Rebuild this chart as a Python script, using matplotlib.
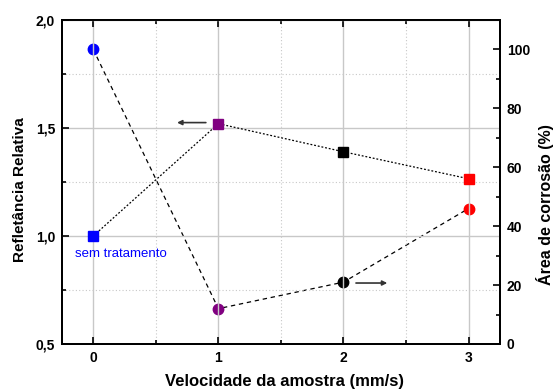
import matplotlib
matplotlib.use("Agg")
import matplotlib.pyplot as plt
from matplotlib.ticker import MultipleLocator, FuncFormatter

plt.rcParams['font.family'] = ['Liberation Sans', 'DejaVu Sans']

# velocidade (mm/s)
velocidade = [0, 1, 2, 3]
# refletância relativa (eixo esquerdo, quadrados)
refletancia = [1.00, 1.52, 1.39, 1.265]
# área de corrosão (%) (eixo direito, círculos)
area_corrosao = [100, 12, 21, 46]
cores = ['#0000ff', '#800080', '#000000', '#ff0000']

fig = plt.figure(figsize=(5.56, 3.89), dpi=100)
ax = fig.add_axes([0.1115, 0.1157, 0.7875, 0.8329])
ax2 = ax.twinx()

# linhas tracejadas ligando os pontos
ax.plot(velocidade, refletancia, color='k', lw=0.9, ls=(0, (1.5, 1.5)), zorder=2)
ax2.plot(velocidade, area_corrosao, color='k', lw=0.9, ls=(0, (3.5, 3)), zorder=2)
for x, y, c in zip(velocidade, refletancia, cores):
    ax.plot(x, y, 's', color=c, ms=7, mec=c, zorder=3)
for x, y, c in zip(velocidade, area_corrosao, cores):
    ax2.plot(x, y, 'o', color=c, ms=7.5, mec=c, zorder=3)

ax.set_xlim(-0.25, 3.25)
ax.set_ylim(0.5, 2.0)
ax2.set_ylim(0, 110)

ax.xaxis.set_major_locator(MultipleLocator(1))
ax.xaxis.set_minor_locator(MultipleLocator(0.5))
ax.yaxis.set_major_locator(MultipleLocator(0.5))
ax.yaxis.set_minor_locator(MultipleLocator(0.25))
ax2.yaxis.set_major_locator(MultipleLocator(20))
ax2.yaxis.set_minor_locator(MultipleLocator(10))
ax.yaxis.set_major_formatter(FuncFormatter(lambda v, p: f"{v:.1f}".replace('.', ',')))

# grade: linhas cheias nos ticks principais, pontilhadas nos secundários
ax.grid(which='major', color='#c8c8c8', lw=1.0, ls='-')
ax.grid(which='minor', color='#c8c8c8', lw=0.8, ls=(0, (1, 2)))
ax.set_axisbelow(True)

ax.tick_params(which='both', direction='in', top=True, right=False, width=1.2)
ax.tick_params(which='major', length=5, labelsize=10, pad=5)
ax.tick_params(which='minor', length=3)
ax2.tick_params(which='both', direction='in', width=1.2)
ax2.tick_params(which='major', length=5, labelsize=10, pad=5)
ax2.tick_params(which='minor', length=3)
for a in (ax, ax2):
    for s in a.spines.values():
        s.set_linewidth(1.4)
    for lab in a.get_xticklabels() + a.get_yticklabels():
        lab.set_fontweight('bold')

ax.set_xlabel('Velocidade da amostra (mm/s)', fontsize=12, fontweight='bold', va='center')
ax.set_ylabel('Refletância Relativa', fontsize=11, fontweight='bold', va='center')
ax2.set_ylabel('Área de corrosão (%)', fontsize=11.5, fontweight='bold', va='center')
ax.xaxis.set_label_coords(0.509, -0.117)
ax.yaxis.set_label_coords(-0.096, 0.475)
ax2.yaxis.set_label_coords(1.102, 0.429)

ax.text(0.22, 0.915, 'sem tratamento', color='#0000ff', fontsize=9.5,
        ha='center', va='center')

# setas indicando o eixo de cada série
ax.annotate('', xy=(0.67, 1.525), xytext=(0.9, 1.525),
            arrowprops=dict(arrowstyle='-|>', color='#333333', lw=1.2,
                            mutation_scale=7, shrinkA=0, shrinkB=0))
ax2.annotate('', xy=(2.35, 20.7), xytext=(2.1, 20.7),
             arrowprops=dict(arrowstyle='-|>', color='#333333', lw=1.2,
                             mutation_scale=7, shrinkA=0, shrinkB=0))

ax.set_zorder(ax2.get_zorder() + 1)
ax.patch.set_visible(False)

fig.savefig('out.png', dpi=100)
